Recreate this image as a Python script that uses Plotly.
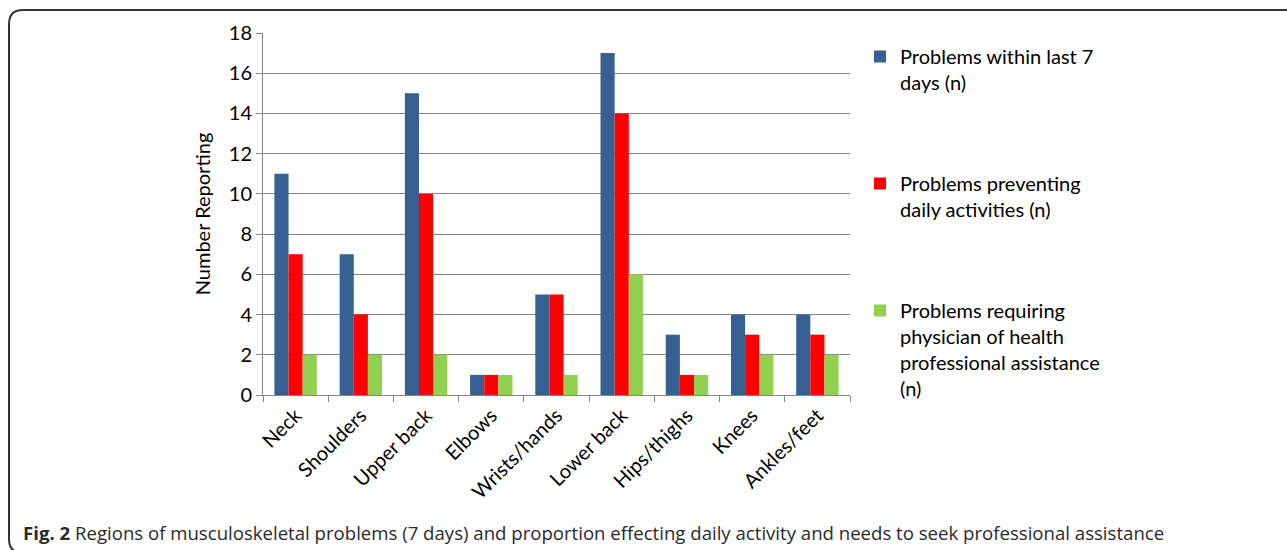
import plotly.graph_objects as go

categories = ["Neck", "Shoulders", "Upper back", "Elbows", "Wrists/hands",
              "Lower back", "Hips/thighs", "Knees", "Ankles/feet"]
within_7_days = [11, 7, 15, 1, 5, 17, 3, 4, 4]
preventing_daily = [7, 4, 10, 1, 5, 14, 1, 3, 3]
requiring_physician = [2, 2, 2, 1, 1, 6, 1, 2, 2]

series_names = ["Problems within last 7<br>days (n)",
                "Problems preventing<br>daily activities (n)",
                "Problems requiring<br>physician of health<br>professional assistance<br>(n)"]
series_colors = ["#376092", "#FF0000", "#92D050"]
y_ticks = [0, 2, 4, 6, 8, 10, 12, 14, 16, 18]

W, H = 1287, 550
L, R, T, B = 263, 850, 33, 395
FONT = "Lato"
FS = 20

fig = go.Figure()
for i, (name, vals, col) in enumerate(zip(series_names,
                                          [within_7_days, preventing_daily, requiring_physician],
                                          series_colors)):
    fig.add_trace(go.Bar(x=categories, y=vals, name=name, marker_color=col,
                         marker_line_width=0, legendgroup=f"g{i}"))

def px_x(p):
    return (p - L) / (R - L)

def px_y(p):
    return (B - p) / (B - T)

# rounded frame
x0, y0, x1, y1, r = 9, 10, 1320, 553, 14
path = (f"M {px_x(x0)},{px_y(y0 + r)} "
        f"Q {px_x(x0)},{px_y(y0)} {px_x(x0 + r)},{px_y(y0)} "
        f"L {px_x(x1)},{px_y(y0)} "
        f"M {px_x(x0)},{px_y(y0 + r)} "
        f"L {px_x(x0)},{px_y(y1 - r)} "
        f"Q {px_x(x0)},{px_y(y1)} {px_x(x0 + r)},{px_y(y1)} "
        f"L {px_x(x1)},{px_y(y1)}")

fig.update_layout(
    width=W, height=H,
    margin=dict(l=L, r=W - R, t=T, b=H - B, autoexpand=False),
    paper_bgcolor="white", plot_bgcolor="white",
    barmode="group", bargap=0.35, bargroupgap=0,
    font=dict(family=FONT, size=FS, color="#000000"),
    xaxis=dict(type="category", tickangle=-45, ticks="outside", tickson="boundaries",
               ticklen=6, tickcolor="#868686", showline=True, linecolor="#868686",
               linewidth=1, showgrid=False, tickfont=dict(size=FS, family=FONT),
               automargin=False),
    yaxis=dict(range=[0, 18], tickvals=y_ticks, ticks="outside", ticklen=6,
               tickcolor="#868686", showline=True, linecolor="#868686", linewidth=1,
               showgrid=True, gridcolor="#868686", gridwidth=1,
               tickfont=dict(size=FS, family=FONT), automargin=False,
               title=dict(text="Number Reporting", font=dict(size=FS, family=FONT),
                          standoff=12)),
    legend=dict(x=px_x(860), y=px_y(37), xanchor="left", yanchor="top",
                font=dict(size=FS, family=FONT), tracegroupgap=72, valign="top",
                itemwidth=30, bgcolor="rgba(0,0,0,0)", traceorder="grouped",
                maxheight=700),
    shapes=[dict(type="path", path=path, xref="paper", yref="paper",
                 line=dict(color="#333333", width=2))],
    annotations=[dict(text="<b>Fig. 2</b> Regions of musculoskeletal problems (7 days) and proportion effecting daily activity and needs to seek professional assistance",
                      xref="paper", yref="paper", x=px_x(21), y=px_y(532),
                      xanchor="left", yanchor="middle", showarrow=False,
                      font=dict(family="Open Sans", size=18.6, color="#2a2a2a"))],
)

fig.write_html("out.html")
